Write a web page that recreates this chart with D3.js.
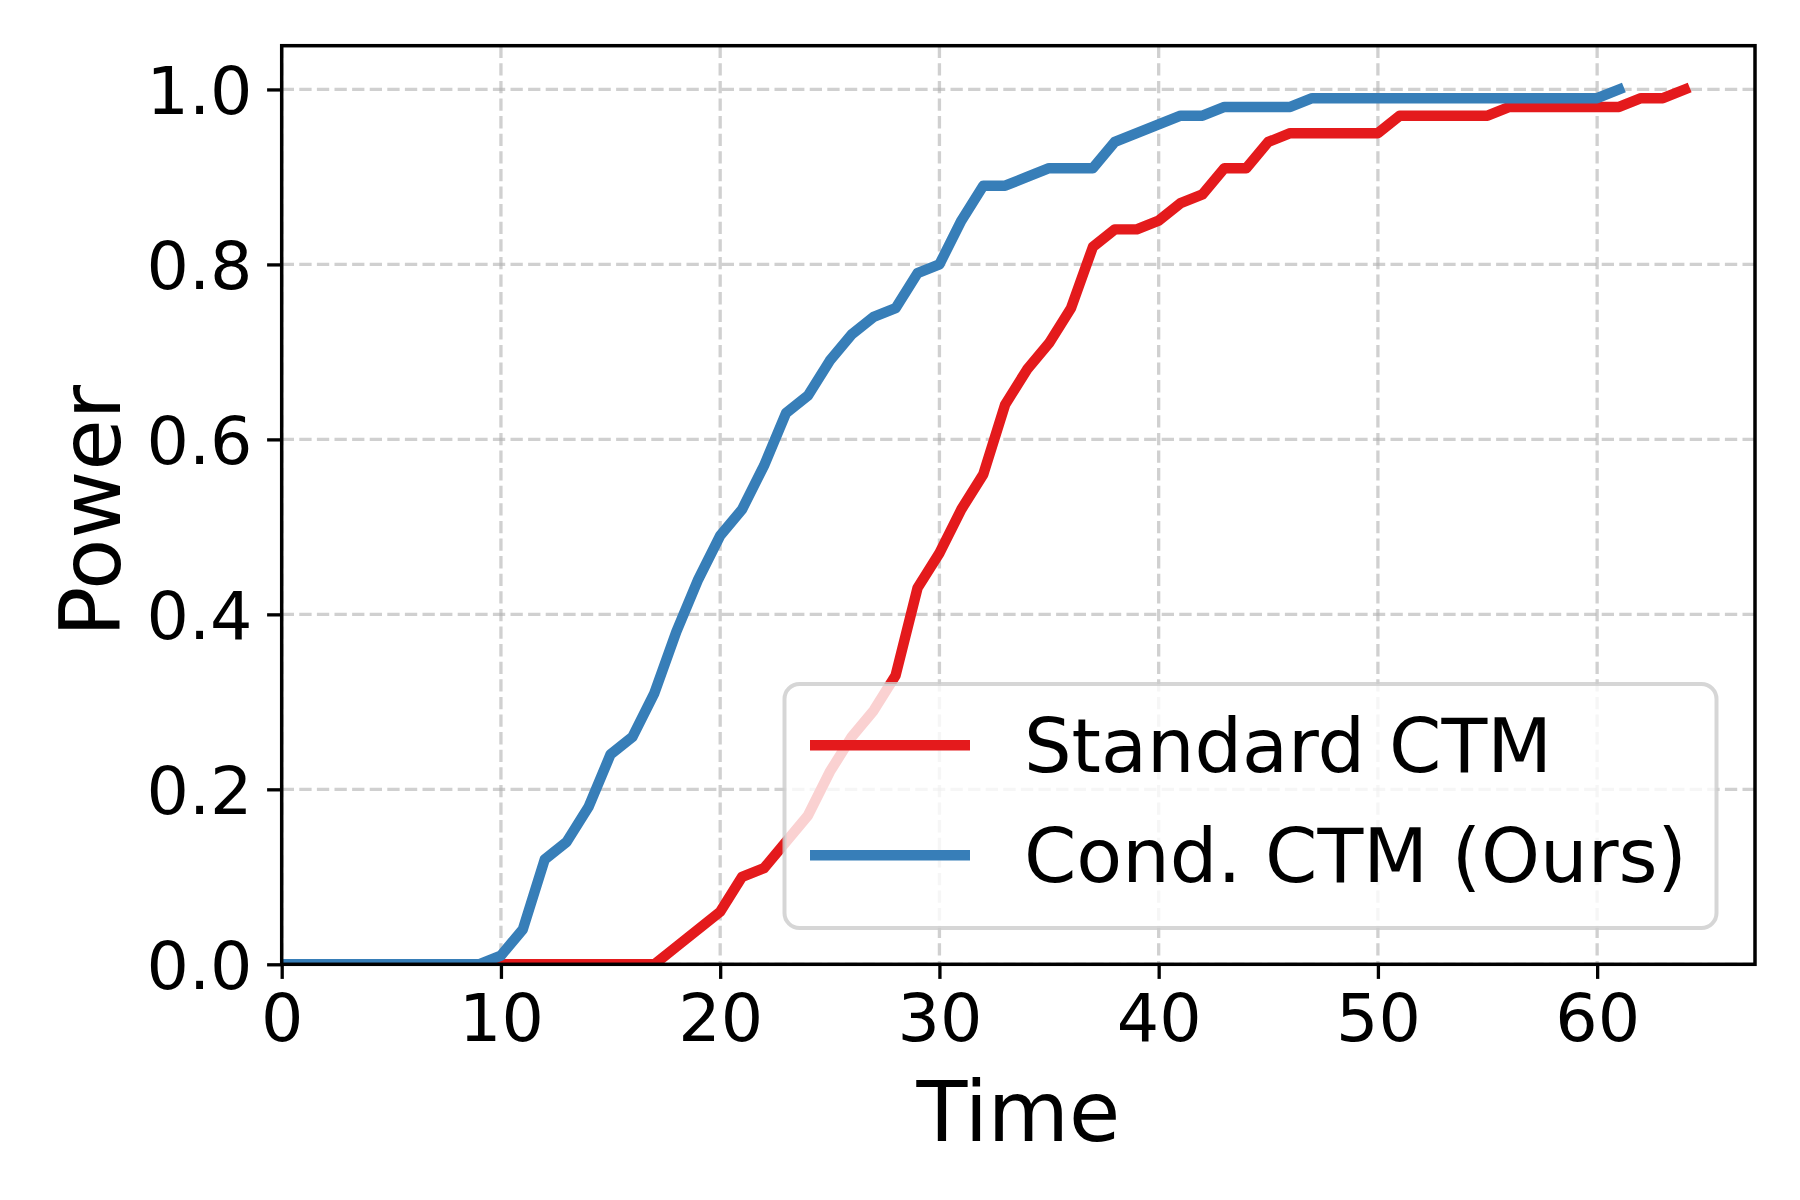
<!DOCTYPE html>
<html>
<head>
<meta charset="utf-8">
<script src="https://cdn.jsdelivr.net/npm/d3@7"></script>
<style>
  html, body { margin: 0; padding: 0; background: #ffffff; }
  svg { display: block; }
  text { font-family: "DejaVu Sans", sans-serif; fill: #000; }
</style>
</head>
<body>
<div id="chart"></div>
<script>
// ---------------- data ----------------
const timeStandard = [0,1,2,3,4,5,6,7,8,9,10,11,12,13,14,15,16,17,18,19,20,21,22,23,24,25,26,27,28,29,30,31,32,33,34,35,36,37,38,39,40,41,42,43,44,45,46,47,48,49,50,51,52,53,54,55,56,57,58,59,60,61,62,63,64];
const powerStandard = [0,0,0,0,0,0,0,0,0,0,0,0,0,0,0,0,0,0,
  0.02,0.04,0.06,0.10,0.11,0.14,0.17,0.22,0.26,0.29,0.33,0.43,0.47,0.52,0.56,0.64,0.68,0.71,0.75,0.82,0.84,0.84,
  0.85,0.87,0.88,0.91,0.91,0.94,0.95,0.95,0.95,0.95,0.95,0.97,0.97,0.97,0.97,0.97,0.98,0.98,0.98,0.98,0.98,0.98,0.99,0.99,1.00];

const timeCond = [0,1,2,3,4,5,6,7,8,9,10,11,12,13,14,15,16,17,18,19,20,21,22,23,24,25,26,27,28,29,30,31,32,33,34,35,36,37,38,39,40,41,42,43,44,45,46,47,48,49,50,51,52,53,54,55,56,57,58,59,60,61];
const powerCond = [0,0,0,0,0,0,0,0,0,0,
  0.01,0.04,0.12,0.14,0.18,0.24,0.26,0.31,0.38,0.44,0.49,0.52,0.57,0.63,0.65,0.69,0.72,0.74,0.75,0.79,0.80,
  0.85,0.89,0.89,0.90,0.91,0.91,0.91,0.94,0.95,0.96,0.97,0.97,0.98,0.98,0.98,0.98,
  0.99,0.99,0.99,0.99,0.99,0.99,0.99,0.99,0.99,0.99,0.99,0.99,0.99,0.99,1.00];

const seriesNames = ["Standard CTM", "Cond. CTM (Ours)"];
const seriesColors = ["#e41a1c", "#377eb8"];
const xTicks = [0, 10, 20, 30, 40, 50, 60];
const yTicks = [0.0, 0.2, 0.4, 0.6, 0.8, 1.0];
const xDomain = [0, 67.2];
const yDomain = [0, 1.05];
const xLabel = "Time";
const yLabel = "Power";

// ---------------- layout ----------------
const W = 1800, H = 1200;
const L = 281.7, R = 1755, T = 45.7, B = 964.3;

const svg = d3.select("#chart").append("svg")
  .attr("width", W).attr("height", H).attr("viewBox", `0 0 ${W} ${H}`);
svg.append("rect").attr("width", W).attr("height", H).attr("fill", "#fff");

const x = d3.scaleLinear().domain(xDomain).range([L, R]);
const y = d3.scaleLinear().domain(yDomain).range([B, T]);

svg.append("defs").append("clipPath").attr("id", "clip")
  .append("rect").attr("x", L).attr("y", T).attr("width", R - L).attr("height", B - T);

// grid
const grid = svg.append("g");
grid.selectAll("line.gx").data(xTicks).join("line")
  .attr("x1", d => x(d)).attr("x2", d => x(d)).attr("y1", T).attr("y2", B)
  .attr("stroke", "#b0b0b0").attr("stroke-opacity", 0.6).attr("stroke-width", 3.3)
  .attr("stroke-dasharray", "12.3,5.3");
grid.selectAll("line.gy").data(yTicks).join("line")
  .attr("x1", L).attr("x2", R).attr("y1", d => y(d)).attr("y2", d => y(d))
  .attr("stroke", "#b0b0b0").attr("stroke-opacity", 0.6).attr("stroke-width", 3.3)
  .attr("stroke-dasharray", "12.3,5.3");

// lines
const line = d3.line().x(d => x(d[0])).y(d => y(d[1]));
const seriesData = [
  d3.zip(timeStandard, powerStandard),
  d3.zip(timeCond, powerCond)
];
const plot = svg.append("g").attr("clip-path", "url(#clip)");
seriesData.forEach((s, i) => {
  plot.append("path").datum(s)
    .attr("d", line)
    .attr("fill", "none")
    .attr("stroke", seriesColors[i])
    .attr("stroke-width", 10.4)
    .attr("stroke-linejoin", "round")
    .attr("stroke-linecap", "square");
});

// axes
const fsTick = 66.7;
const xAxis = d3.axisBottom(x).tickValues(xTicks).tickFormat(d3.format("d"))
  .tickSize(14.6).tickPadding(14.6);
const yAxis = d3.axisLeft(y).tickValues(yTicks).tickFormat(d3.format(".1f"))
  .tickSize(14.6).tickPadding(14.6);

const gx = svg.append("g").attr("transform", `translate(0,${B})`).call(xAxis);
const gy = svg.append("g").attr("transform", `translate(${L},0)`).call(yAxis);
[gx, gy].forEach(g => {
  g.select(".domain").remove();
  g.selectAll(".tick line").attr("stroke", "#000").attr("stroke-width", 3.3);
  g.selectAll(".tick text").attr("font-size", fsTick).attr("font-family", "DejaVu Sans").attr("fill", "#000");
});
gy.selectAll(".tick text").attr("dy", "0.36em");

// spines
svg.append("rect").attr("x", L).attr("y", T).attr("width", R - L).attr("height", B - T)
  .attr("fill", "none").attr("stroke", "#000").attr("stroke-width", 3.5);

// axis labels
const fsLabel = 83.3;
svg.append("text").attr("x", (L + R) / 2).attr("y", 1140.5)
  .attr("text-anchor", "middle").attr("font-size", fsLabel).text(xLabel);
svg.append("text")
  .attr("transform", `translate(120,${(T + B) / 2 + 6}) rotate(-90)`)
  .attr("text-anchor", "middle").attr("font-size", fsLabel).text(yLabel);

// legend
const fsLeg = 75;
const lgX = 784.5, lgY = 684, lgW = 932, lgH = 244;
const leg = svg.append("g");
leg.append("rect").attr("x", lgX).attr("y", lgY).attr("width", lgW).attr("height", lgH)
  .attr("rx", 15).attr("ry", 15)
  .attr("fill", "#fff").attr("fill-opacity", 0.8)
  .attr("stroke", "#cccccc").attr("stroke-opacity", 0.8).attr("stroke-width", 4);
const rowBase = [771.7, 881.7];
seriesNames.forEach((name, i) => {
  const ly = rowBase[i] - 26.5;
  leg.append("line").attr("x1", 810).attr("x2", 970).attr("y1", ly).attr("y2", ly)
    .attr("stroke", seriesColors[i]).attr("stroke-width", 10.4);
  leg.append("text").attr("x", 1024).attr("y", rowBase[i]).attr("font-size", fsLeg).text(name);
});
</script>
</body>
</html>
